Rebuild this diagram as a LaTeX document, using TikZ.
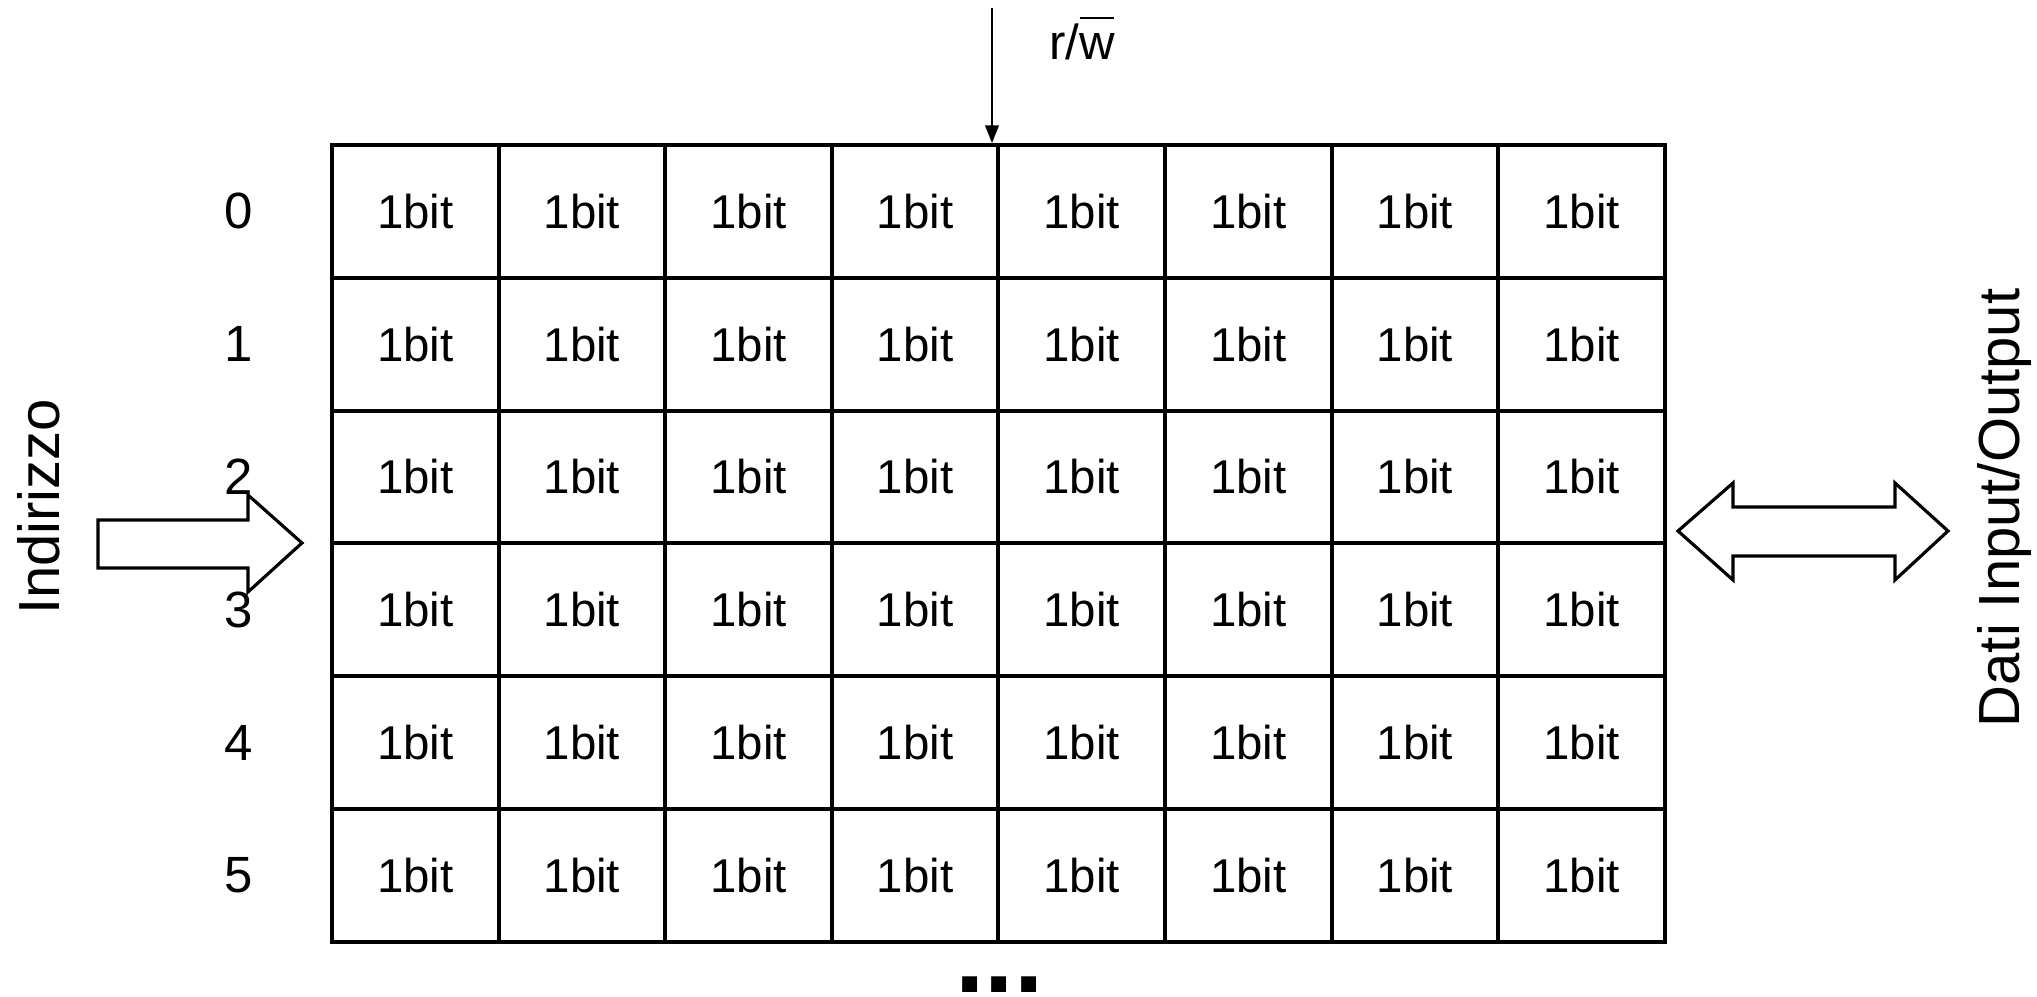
\documentclass[tikz,border=0pt]{standalone}
\usepackage{fontspec}
\setmainfont{Liberation Sans}
\usetikzlibrary{positioning,arrows.meta}

\tikzset{
  bitcell/.style={draw,line width=1.1pt,minimum width=1.666cm,minimum height=1.328cm,inner sep=0pt,font=\fontsize{13.5}{16}\selectfont},
  rowlbl/.style={inner sep=0pt,font=\fontsize{14.5}{17}\selectfont},
  sidelbl/.style={rotate=90,inner sep=0pt,font=\fontsize{16.5}{20}\selectfont},
  blockarrow/.style={draw,line width=0.9pt,fill=white,line join=miter},
}

\begin{document}
\begin{tikzpicture}[>={Triangle[length=5pt,width=3.8pt]}]
\useasboundingbox (0,0) rectangle (20.37,-9.97);
% memory cells, one row per address
\foreach \r in {0,...,5}{
  \node[rowlbl] (row-\r) at (2.385,{-1.45-(\r+0.5)*1.328}) {\r};
  \foreach \c in {0,...,7}
    \node[bitcell] (c-\r-\c) at ({3.32+(\c+0.5)*1.666},{-1.45-(\r+0.5)*1.328}) {1bit};
}
\node[inner sep=0pt,anchor=base,font=\fontsize{30}{32}\selectfont\bfseries] (more) at (9.995,-9.93) {...};

% read/write line
\coordinate (rw) at (9.92,-0.08);
\node[inner sep=0pt,anchor=base,font=\fontsize{14}{17}\selectfont] (rwlbl) at (10.82,-0.60)
  {r/\makebox[0pt][l]{\kern0.02em\rule[\dimexpr1ex+4.2pt]{0.68em}{0.75pt}}w};
\draw[->,line width=0.7pt] (rw) -- (rw |- c-0-4.north);

% address in
\node[sidelbl] (addr) at (0.39,-5.07) {Indirizzo};
\draw[blockarrow] (0.98,-5.20) -- (2.48,-5.20) -- (2.48,-4.95) -- (3.02,-5.43)
  -- (2.48,-5.92) -- (2.48,-5.68) -- (0.98,-5.68) -- cycle;

% data in/out
\node[sidelbl] (data) at (20.04,-5.08) {Dati Input/Output};
\draw[blockarrow] (16.78,-5.31) -- (17.33,-4.83) -- (17.33,-5.07) -- (18.95,-5.07)
  -- (18.95,-4.83) -- (19.48,-5.31) -- (18.95,-5.80) -- (18.95,-5.56)
  -- (17.33,-5.56) -- (17.33,-5.80) -- cycle;
\end{tikzpicture}
\end{document}
